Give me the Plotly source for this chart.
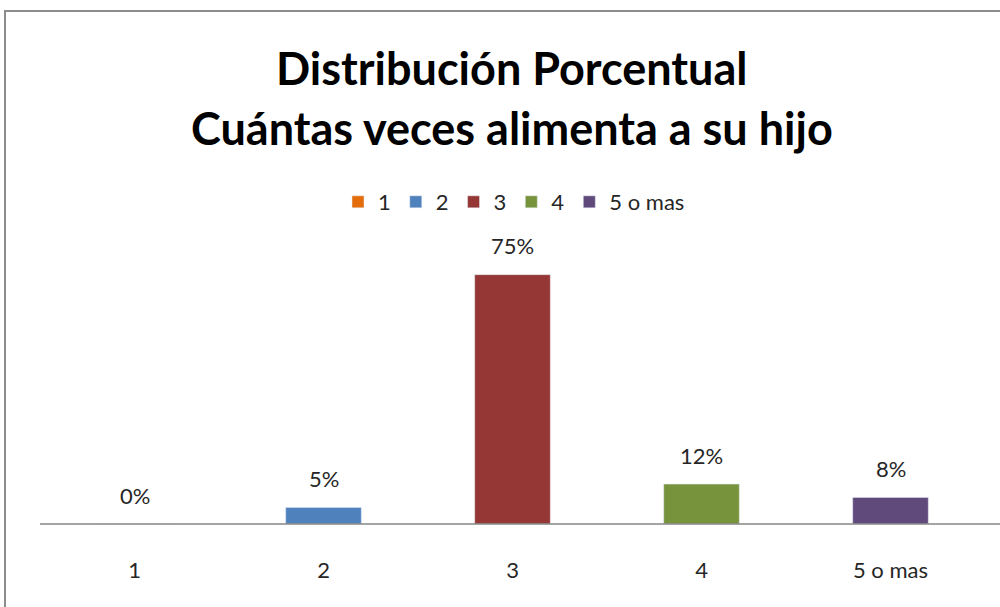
import plotly.graph_objects as go

categories = ["1", "2", "3", "4", "5 o mas"]
values = [0, 5, 75, 12, 8]
labels = ["0%", "5%", "75%", "12%", "8%"]
colors = ["#E46C0A", "#4F81BD", "#953735", "#77933C", "#604A7B"]

title_lines = ["Distribución Porcentual", "Cuántas veces alimenta a su hijo"]

FONT = "Lato, Calibri, Noto Sans, sans-serif"

fig = go.Figure()
for i, (cat, val, lab, col) in enumerate(zip(categories, values, labels, colors)):
    fig.add_trace(go.Bar(
        x=[cat], y=[val], name=cat, marker_color=col, width=0.4,
        hoverinfo="x+y",
    ))
    fig.add_annotation(x=i, y=val, xref="x", yref="y", text=lab,
                       showarrow=False, yanchor="middle", yshift=29,
                       font=dict(size=22, color="#262626", family=FONT))

W, H = 1000, 607
ml, mr, mt, mb = 40, 15, 258, 83
pw, ph = W - ml - mr, H - mt - mb

def px_x(x):
    return (x - ml) / pw

def px_y(y):
    return (H - mb - y) / ph

fig.add_shape(type="rect", xref="paper", yref="paper",
              x0=px_x(5), x1=px_x(1010), y0=px_y(11), y1=px_y(620),
              line=dict(color="#8C8C8C", width=2), fillcolor="rgba(0,0,0,0)")
fig.add_shape(type="line", xref="paper", yref="paper",
              x0=px_x(40), x1=px_x(1000), y0=0, y1=0,
              line=dict(color="#868686", width=1.5))

for line, yc in zip(title_lines, [68, 128]):
    fig.add_annotation(text=f"<b>{line}</b>", xref="paper", yref="paper",
                       x=px_x(512), y=px_y(yc), xanchor="center", yanchor="middle",
                       showarrow=False, font=dict(size=45, color="#000000", family=FONT))

fig.update_layout(
    width=W, height=H,
    margin=dict(l=ml, r=mr, t=mt, b=mb),
    paper_bgcolor="white", plot_bgcolor="white",
    barmode="overlay",
    font=dict(family=FONT, color="#262626"),
    showlegend=True,
    legend=dict(orientation="h", x=px_x(514), xanchor="center",
                y=px_y(202), yanchor="middle",
                font=dict(size=22, color="#262626", family=FONT),
                itemwidth=30, tracegroupgap=0),
    xaxis=dict(type="category", showgrid=False, showline=False, ticks="",
               tickfont=dict(size=22, color="#262626", family=FONT),
               ticklabelstandoff=31),
    yaxis=dict(range=[0, 80], visible=False, showgrid=False),
)

fig.write_html("out.html", config={"displayModeBar": False},
               post_script="document.body.style.margin='0';")
